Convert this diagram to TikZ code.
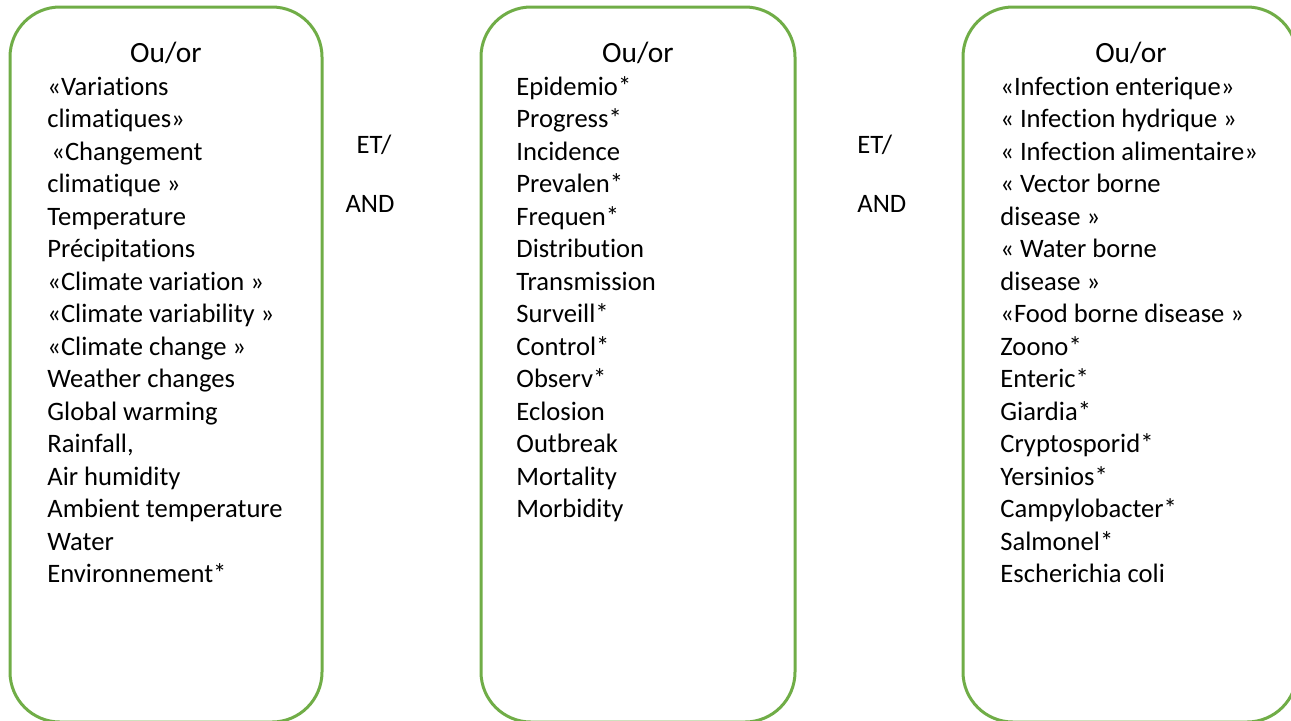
\documentclass[tikz,border=0pt]{standalone}
\usepackage{fontspec}
\setmainfont{Carlito}[Ligatures=NoCommon]
\usepackage{xcolor}
\usetikzlibrary{positioning}
\definecolor{boxgreen}{RGB}{112,173,71}

\begin{document}
\begin{tikzpicture}[
  x=0.5pt, y=-0.5pt,
  termbox/.style={draw=boxgreen, line width=1.5pt, rounded corners=25pt, minimum height=357.5pt, inner sep=0pt},
  heading/.style={font=\fontsize{14.7}{17}\selectfont, anchor=base, inner sep=0pt},
  term/.style={font=\fontsize{13.3}{16}\selectfont, anchor=base west, inner sep=0pt}
]
\useasboundingbox (0,0) rectangle (1291,720);
\clip (0,0) rectangle (1291,720);

% Boxes
\node[termbox, minimum width=156pt] (box1) at (166,364.5) {};
\node[termbox, minimum width=157pt] (box2) at (638,364.5) {};
\node[termbox, minimum width=167pt] (box3) at (1130,364.5) {};

% Headings
\node[heading] (head1) at (166,62) {Ou/or};
\node[heading] (head2) at (638,62) {Ou/or};
\node[heading] (head3) at (1131,62) {Ou/or};

% Climate terms
\foreach \t [count=\i from 0] in {«Variations, climatiques», \hspace{2pt}«Changement, climatique », Temperature,
  Précipitations, «Climate variation », «Climate variability », «Climate change », Weather changes,
  Global warming, {Rainfall,}, Air humidity, Ambient temperature, Water, Environnement*}
  \node[term] (clim\i) at (47, 95+32.5*\i) {\t};

% Epidemiology terms
\foreach \t [count=\i from 0] in {Epidemio*, Progress*, Incidence, Prevalen*, Frequen*, Distribution,
  Transmission, Surveill*, Control*, Observ*, Eclosion, Outbreak, Mortality, Morbidity}
  \node[term] (epi\i) at (516, 95+32.5*\i) {\t};

% Disease terms
\foreach \t [count=\i from 0] in {«Infection enterique», « Infection hydrique », « Infection alimentaire»,
  « Vector borne, disease », « Water borne, disease », «Food borne disease », Zoono*, Enteric*,
  Giardia*, Cryptosporid*, Yersinios*, Campylobacter*, Salmonel*, Escherichia coli}
  \node[term] (dis\i) at (1000, 95+32.5*\i) {\t};

% Operators
\node[term, anchor=base] (et1) at (374,153) {ET/};
\node[term, anchor=base] (and1) at (370,212) {AND};
\node[term] (et2) at (857,153) {ET/};
\node[term] (and2) at (857,212) {AND};

\end{tikzpicture}
\end{document}
